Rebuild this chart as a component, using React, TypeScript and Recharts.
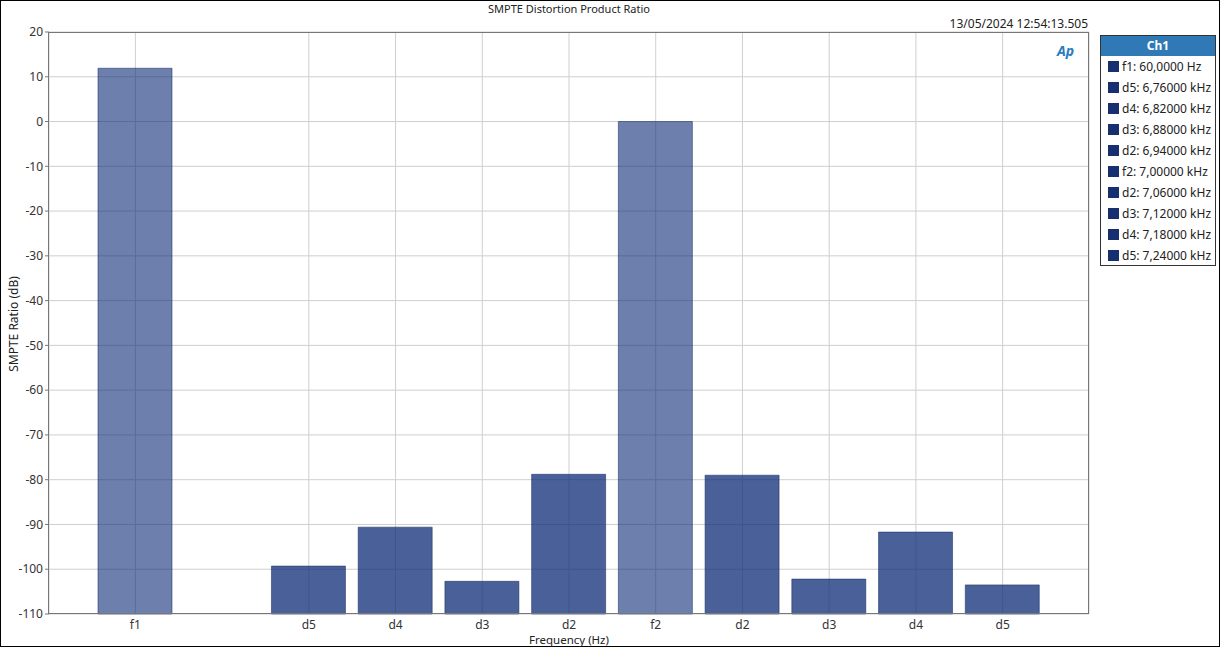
import { BarChart, Bar, XAxis, YAxis, CartesianGrid, Cell } from "recharts";

const keys = ["f1", "gap", "d5a", "d4a", "d3a", "d2a", "f2", "d2b", "d3b", "d4b", "d5b"];
const labels = ["f1", "", "d5", "d4", "d3", "d2", "f2", "d2", "d3", "d4", "d5"];
const ratios = [11.9, null, -99.3, -90.6, -102.7, -78.8, 0.0, -79.0, -102.2, -91.7, -103.5];
const fundamentals = ["f1", "f2"];
const yTicks = [20, 10, 0, -10, -20, -30, -40, -50, -60, -70, -80, -90, -100, -110];
const legendItems = [
  "f1: 60,0000 Hz",
  "d5: 6,76000 kHz",
  "d4: 6,82000 kHz",
  "d3: 6,88000 kHz",
  "d2: 6,94000 kHz",
  "f2: 7,00000 kHz",
  "d2: 7,06000 kHz",
  "d3: 7,12000 kHz",
  "d4: 7,18000 kHz",
  "d5: 7,24000 kHz",
];

const FLOOR = -110;
const font = "'Noto Sans', 'Open Sans', sans-serif";

const data = keys.map((key, i) => ({ key, label: labels[i], value: ratios[i] }));
// no grid line / label for the empty slot between f1 and the lower sidebands
const tickKeys = keys.filter((k) => k !== "gap");
const labelOf = (k: string) => labels[keys.indexOf(k)];

export default function App() {
  return (
    <div
      style={{
        position: "absolute",
        left: 0,
        top: 0,
        width: 1220,
        height: 647,
        boxSizing: "border-box",
        border: "1px solid #000",
        background: "#fff",
        fontFamily: font,
        color: "#222",
      }}
    >
      <div style={{ position: "absolute", left: 0, width: 1136, top: 0, textAlign: "center", fontSize: 11 }}>
        SMPTE Distortion Product Ratio
      </div>
      <div style={{ position: "absolute", right: 131, top: 14, fontSize: 12 }}>13/05/2024 12:54:13.505</div>
      <div
        style={{
          position: "absolute",
          left: 1056,
          top: 40,
          fontSize: 14,
          fontWeight: 700,
          fontStyle: "italic",
          color: "#2b7bc0",
        }}
      >
        Ap
      </div>
      <div
        style={{
          position: "absolute",
          left: 12,
          top: 323,
          transform: "translate(-50%, -50%) rotate(-90deg)",
          fontSize: 12,
          whiteSpace: "nowrap",
        }}
      >
        SMPTE Ratio (dB)
      </div>
      <div
        style={{
          position: "absolute",
          left: 0,
          width: 1136,
          top: 633,
          textAlign: "center",
          fontSize: 11.5,
          lineHeight: "11px",
        }}
      >
        Frequency (Hz)
      </div>

      <BarChart
        width={1220}
        height={647}
        data={data}
        margin={{ top: 32, right: 132, bottom: 0, left: 0 }}
        style={{ position: "absolute", left: 0, top: -1 }}
      >
        <CartesianGrid stroke="#cfcfcf" />
        <XAxis
          dataKey="key"
          type="category"
          ticks={tickKeys}
          interval={0}
          tickFormatter={labelOf}
          padding={{ left: 43, right: 43 }}
          height={33}
          axisLine={false}
          tickLine={false}
          tick={{ fill: "#333", fontSize: 12, fontFamily: font }}
          tickMargin={0}
        />
        <YAxis
          type="number"
          domain={[FLOOR, 20]}
          ticks={yTicks}
          interval={0}
          width={48}
          axisLine={false}
          tickSize={4}
          tickLine={{ stroke: "#777" }}
          tick={{ fill: "#333", fontSize: 12, fontFamily: font }}
        />
        <Bar
          dataKey={(d: any) => (d.value == null ? null : [FLOOR, d.value])}
          barSize={74}
          stroke="#1c2f66"
          strokeOpacity={0.55}
          isAnimationActive={false}
        >
          {data.map((d) => (
            <Cell
              key={d.key}
              fill="#0c2c76"
              fillOpacity={fundamentals.includes(d.key) ? 0.6 : 0.75}
            />
          ))}
        </Bar>
      </BarChart>
      <div
        style={{
          position: "absolute",
          left: 47,
          top: 31,
          width: 1041,
          height: 582,
          boxSizing: "border-box",
          border: "1px solid #777",
          pointerEvents: "none",
        }}
      />

      <div
        style={{
          position: "absolute",
          left: 1099,
          top: 34,
          width: 116,
          height: 231,
          boxSizing: "border-box",
          border: "1px solid #333",
          fontSize: 12,
        }}
      >
        <div
          style={{
            background: "#2f7ab6",
            color: "#fff",
            fontWeight: 700,
            textAlign: "center",
            height: 20,
            lineHeight: "20px",
            fontSize: 12,
          }}
        >
          Ch1
        </div>
        {legendItems.map((t) => (
          <div key={t} style={{ display: "flex", alignItems: "center", height: 21, paddingLeft: 7, whiteSpace: "nowrap" }}>
            <span style={{ width: 11, height: 11, background: "#162f6e", marginRight: 3, flex: "none" }} />
            <span style={{ fontSize: 12 }}>{t}</span>
          </div>
        ))}
      </div>
    </div>
  );
}
